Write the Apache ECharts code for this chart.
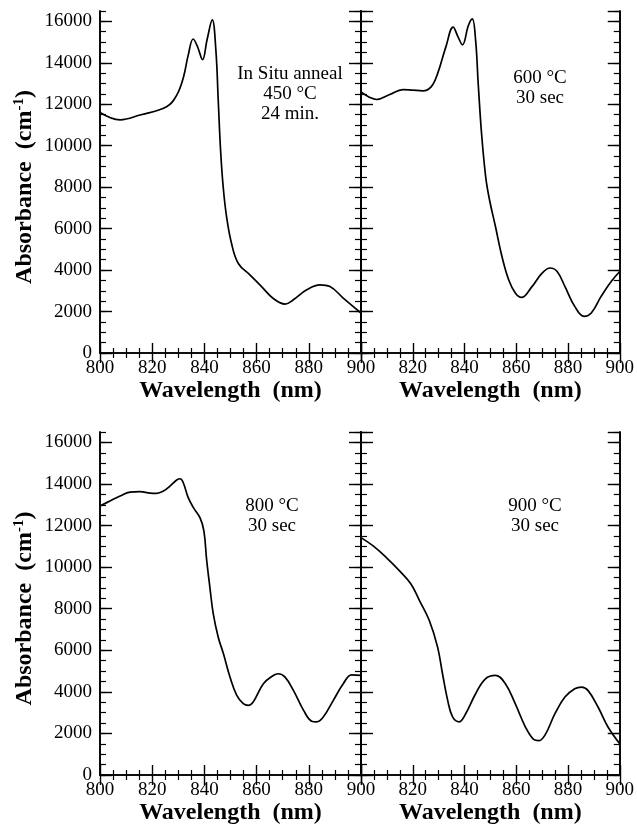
<html>
<head>
  <script src="https://cdnjs.cloudflare.com/ajax/libs/echarts/6.0.0/echarts.min.js"></script>
  <title>Absorbance</title>
</head>
<body style="margin: 0; background: #fff;">
  <div id="main" style="width: 637px; height: 831px;"></div>
  <script>
    // wavelength (nm) and absorbance (cm-1)
    var wl450 = [800, 807.7, 815.3, 825.5, 829.4, 832, 833.8, 835.7, 837.3, 839.3, 841, 843, 844.4, 845.3, 846.2, 847.2, 848.5, 850.4, 853, 857.5, 862, 866.4, 870.9, 874.1, 879.2, 884.3, 888.1, 893.2, 900];
    var ab450 = [11600, 11250, 11480, 11880, 12440, 13320, 14370, 15150, 14800, 14150, 15100, 16070, 14600, 12190, 9780, 8010, 6570, 5280, 4320, 3760, 3190, 2630, 2360, 2570, 3050, 3290, 3210, 2650, 1930];

    var wl600 = [800, 803.4, 806, 811.1, 816.2, 820, 823.9, 827.1, 829.6, 832.8, 835.6, 837.5, 839.2, 841.5, 843, 844.3, 845.3, 846.6, 848.2, 849.7, 852, 854.5, 857.1, 859.7, 862, 866, 869.9, 873.1, 875.8, 878.8, 882.6, 886.2, 889, 892.8, 896.7, 900];
    var ab600 = [12600, 12330, 12230, 12470, 12710, 12680, 12650, 12840, 13480, 14770, 15720, 15250, 14870, 15800, 16120, 15080, 12990, 10580, 8490, 7370, 6080, 4640, 3520, 2880, 2680, 3190, 3840, 4100, 3930, 3210, 2250, 1770, 1930, 2730, 3450, 3930];

    var wl800 = [800, 803.8, 807.7, 811.5, 815.3, 819.2, 821.7, 824.3, 826.8, 829.4, 830.7, 831.9, 833.8, 835.8, 838.3, 839.8, 840.9, 842.1, 843.4, 845.3, 847.3, 849.8, 852.4, 854.9, 856.8, 858.7, 862.6, 866.4, 868.3, 870.9, 874.1, 878, 881.1, 883, 885.6, 889.4, 893.2, 896.4, 900];
    var ab800 = [12940, 13180, 13420, 13610, 13630, 13560, 13550, 13660, 13900, 14190, 14250, 14060, 13340, 12860, 12380, 11740, 10300, 9030, 7750, 6630, 5830, 4710, 3830, 3430, 3350, 3510, 4390, 4790, 4870, 4710, 4070, 3110, 2590, 2560, 2800, 3590, 4390, 4820, 4790];

    var wl900 = [800, 804.7, 809.8, 814.9, 819.3, 822.6, 826.4, 829.6, 831.5, 833.5, 835.4, 838, 840.5, 844.3, 848.1, 852, 855.8, 859.6, 863.5, 866.7, 868.6, 871.1, 875, 878.8, 882.6, 885.2, 887.7, 891.6, 895.4, 900];
    var ab900 = [11420, 11020, 10460, 9820, 9190, 8390, 7430, 6150, 4870, 3590, 2800, 2560, 2960, 3910, 4630, 4790, 4390, 3430, 2320, 1710, 1650, 1920, 2960, 3750, 4150, 4230, 4070, 3270, 2320, 1500];

    var xTicks = [800, 820, 840, 860, 880, 900];
    var yTicks = [0, 2000, 4000, 6000, 8000, 10000, 12000, 14000, 16000];
    var labels = [['In Situ anneal', '450 °C', '24 min.'], ['600 °C', '30 sec'], ['800 °C', '30 sec'], ['900 °C', '30 sec']];

    var chart = echarts.init(document.getElementById('main'));
    var serif = '"Liberation Serif", "Times New Roman", serif';
    var lineStyle = { color: '#000', width: 1.7 };

    var grids = [
      { left: 100, top: 11, width: 261, height: 342 },
      { left: 361, top: 11, width: 261, height: 342 },
      { left: 100, top: 432, width: 261, height: 343 },
      { left: 361, top: 432, width: 261, height: 343 }
    ];

    var xAxes = [], yAxes = [], series = [], graphics = [];
    var allX = [wl450, wl600, wl800, wl900];
    var allY = [ab450, ab600, ab800, ab900];

    for (let g = 0; g < 4; ++g) {
      var isLeft = g % 2 == 0;
      ['bottom', 'top'].forEach(function (pos) {
        xAxes.push({
          type: 'value', gridIndex: g, position: pos,
          min: xTicks[0], max: xTicks[xTicks.length - 1], interval: xTicks[1] - xTicks[0],
          splitLine: { show: false },
          axisLine: { lineStyle: { color: '#000', width: 1.6 } },
          axisTick: { inside: true, length: 10, lineStyle: { color: '#000', width: 1.4 } },
          minorTick: { show: true, splitNumber: 4, length: 5, lineStyle: { color: '#000', width: 1.2 } },
          axisLabel: {
            show: pos == 'bottom', margin: 6, color: '#000', fontFamily: serif, fontSize: 19,
            showMinLabel: isLeft, formatter: function (v) { return String(v); }
          },
          name: pos == 'bottom' ? 'Wavelength  (nm)' : '',
          nameLocation: 'middle', nameGap: 23,
          nameTextStyle: { color: '#000', fontFamily: serif, fontSize: 24, fontWeight: 'bold' }
        });
      });
      ['left', 'right'].forEach(function (pos) {
        // major ticks with labels every 2000
        yAxes.push({
          type: 'value', gridIndex: g, position: pos,
          min: yTicks[0], max: 16500, interval: yTicks[1] - yTicks[0],
          splitLine: { show: false },
          axisLine: { lineStyle: { color: '#000', width: 1.6 } },
          axisTick: { inside: true, length: 12, lineStyle: { color: '#000', width: 1.4 } },
          axisLabel: {
            show: isLeft && pos == 'left', margin: 8, color: '#000', fontFamily: serif, fontSize: 19,
            showMaxLabel: false, formatter: function (v) { return String(v); }
          },
          name: isLeft && pos == 'left' ? '{a|Absorbance  (cm}{s|-1}{a|)}' : '',
          nameLocation: 'middle', nameGap: 63, nameRotate: 90,
          nameTextStyle: {
            padding: [0, 10, 0, 0],
            rich: {
              a: { color: '#000', fontFamily: serif, fontSize: 24, fontWeight: 'bold' },
              s: { color: '#000', fontFamily: serif, fontSize: 15, fontWeight: 'bold', verticalAlign: 'top', padding: [0, 0, 10, 0] }
            }
          }
        });
        // minor ticks every 500
        yAxes.push({
          type: 'value', gridIndex: g, position: pos,
          min: 0, max: 16500, interval: 500,
          splitLine: { show: false },
          axisLine: { lineStyle: { color: '#000', width: 1.6 } },
          axisTick: { inside: true, length: 6, lineStyle: { color: '#000', width: 1.2 } },
          axisLabel: { show: false }
        });
      });

      series.push({
        type: 'line', xAxisIndex: g * 2, yAxisIndex: g * 4,
        data: allX[g].map(function (x, i) { return [x, allY[g][i]]; }),
        smooth: 0.4, showSymbol: false, lineStyle: lineStyle, silent: true
      });
    }

    var labelCenters = [[290, 64], [540, 68], [272, 496], [535, 496]];
    labels.forEach(function (lines, g) {
      graphics.push({
        type: 'text', x: labelCenters[g][0], y: labelCenters[g][1],
        style: {
          text: lines.join('\n'), fill: '#000', font: '19px ' + serif,
          align: 'center', verticalAlign: 'top', lineHeight: 20
        }
      });
    });

    chart.setOption({
      animation: false,
      grid: grids,
      xAxis: xAxes,
      yAxis: yAxes,
      series: series,
      graphic: graphics
    });
  </script>
</body>
</html>
